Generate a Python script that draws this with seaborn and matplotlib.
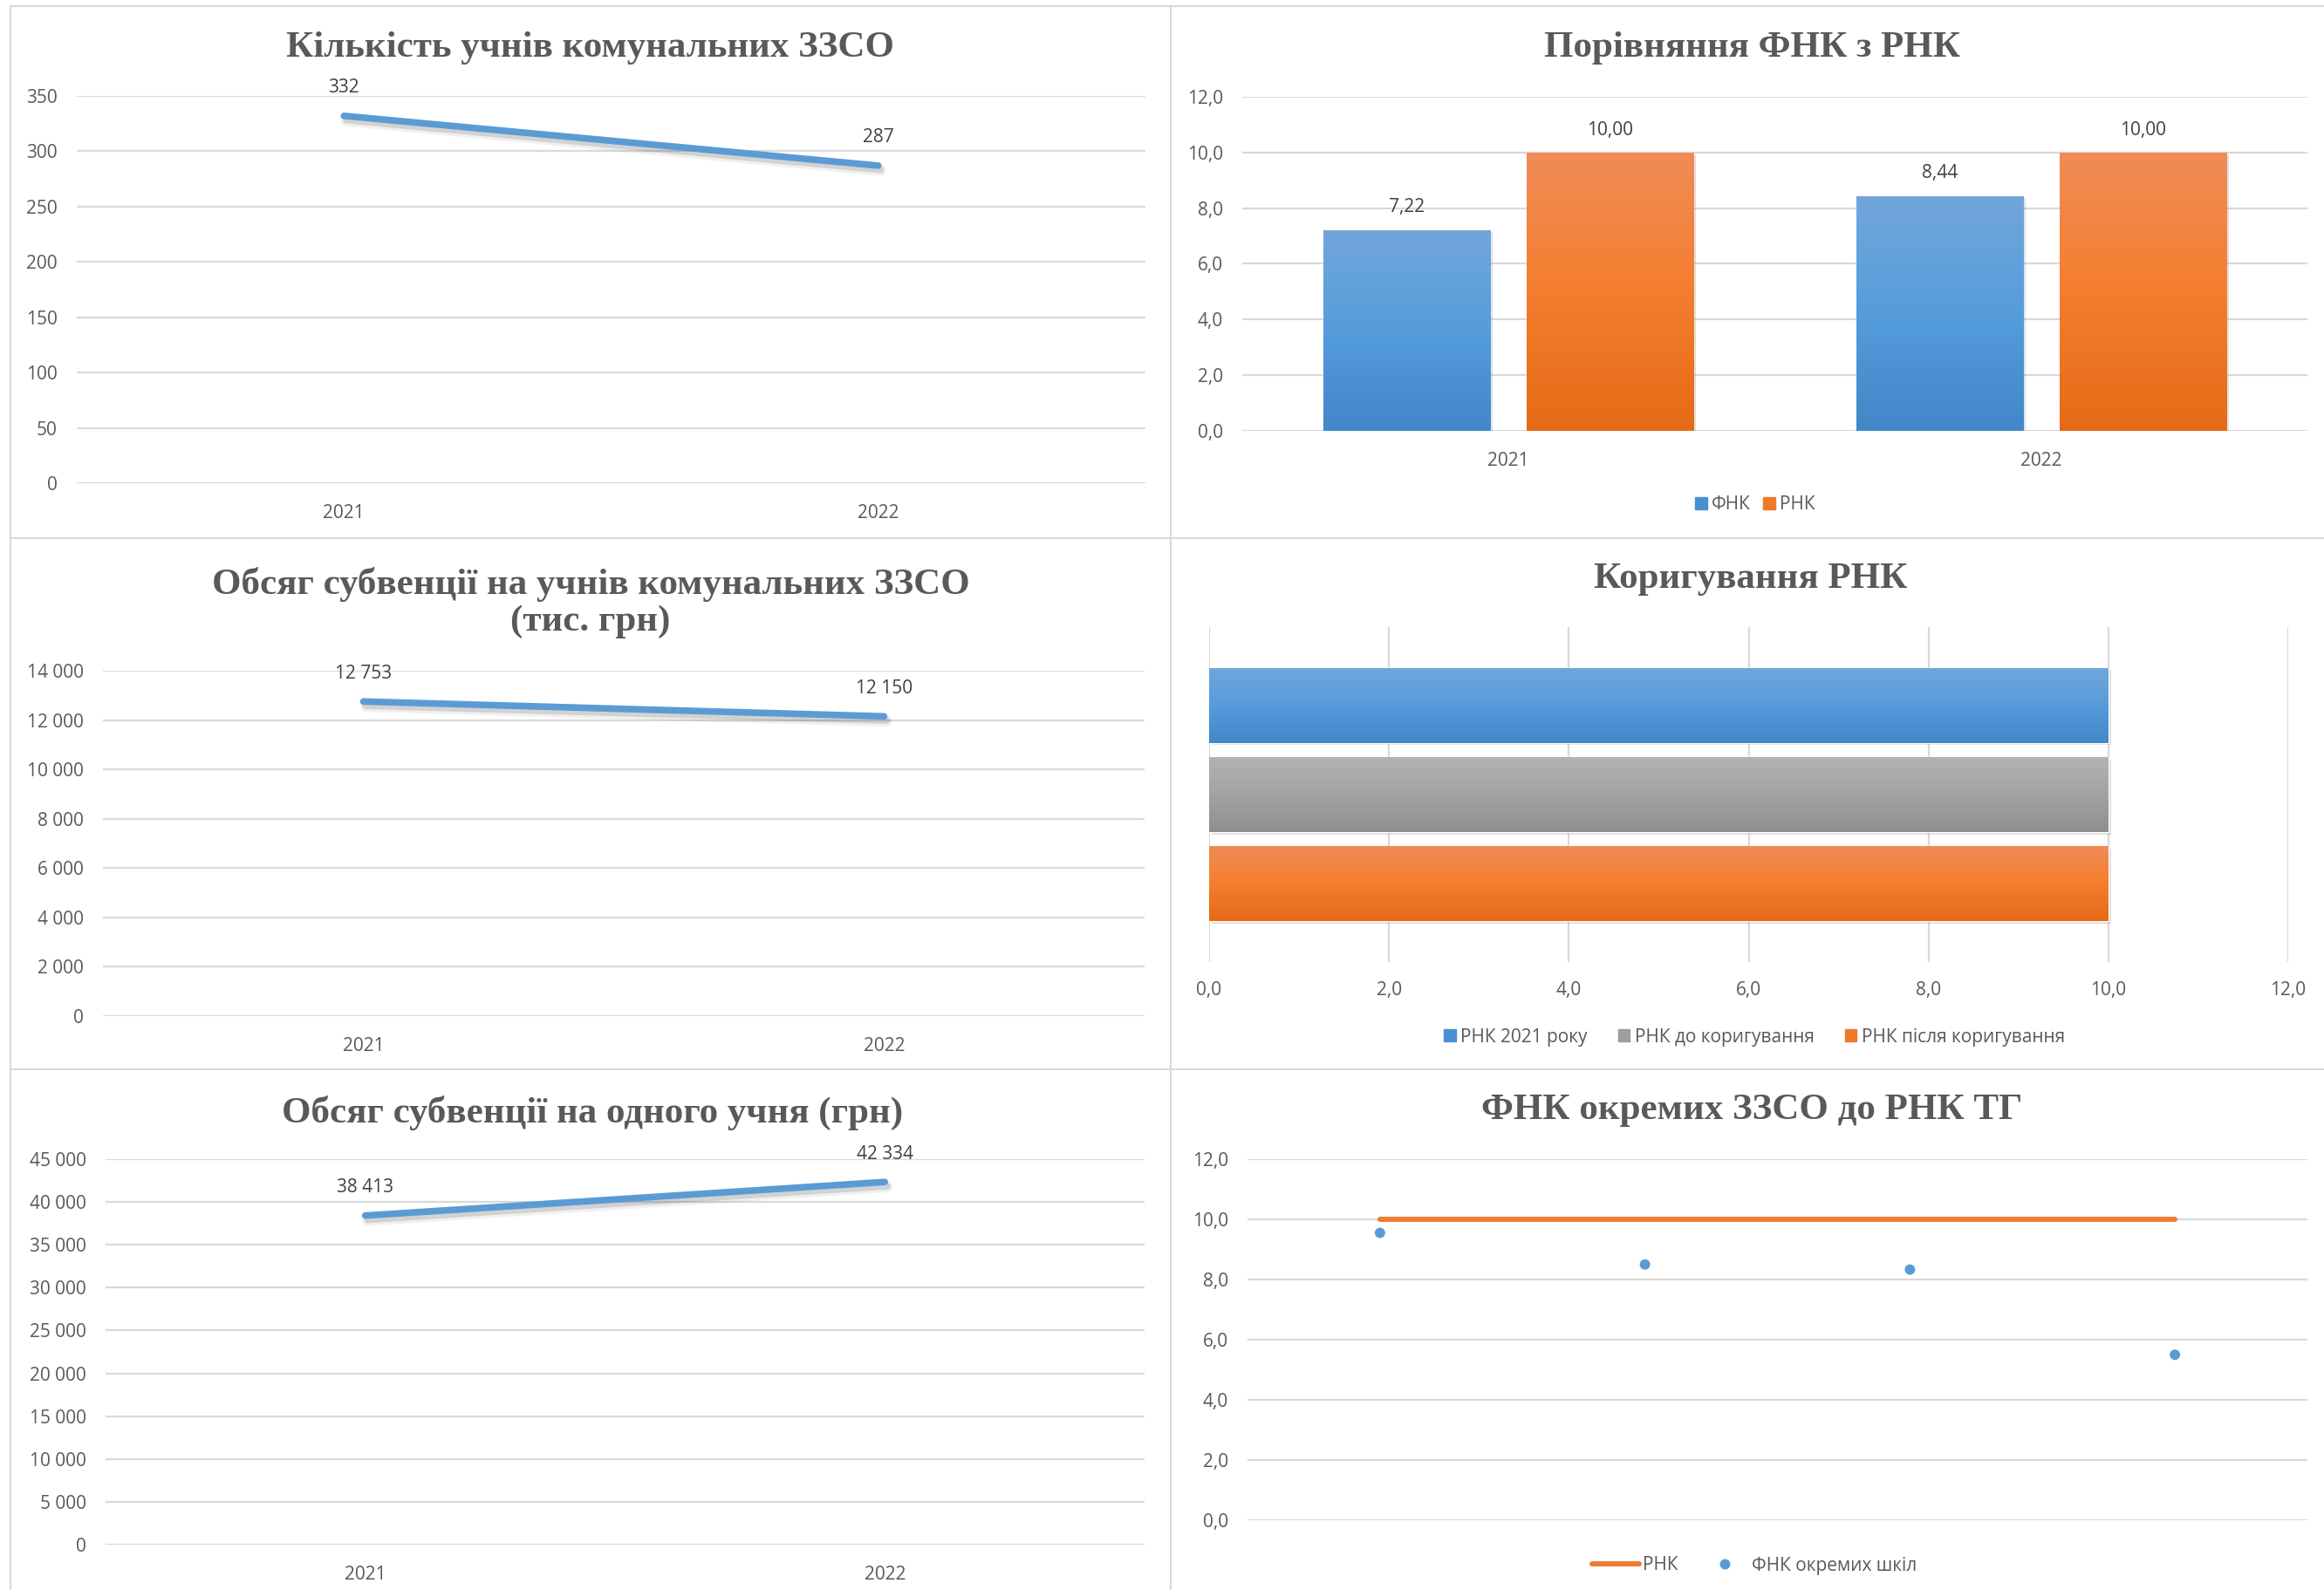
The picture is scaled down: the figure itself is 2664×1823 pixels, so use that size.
import numpy as np
import pandas as pd
import matplotlib
matplotlib.use('Agg')
import matplotlib.pyplot as plt
import matplotlib.patheffects as pe
from matplotlib.colors import LinearSegmentedColormap
from matplotlib.lines import Line2D
from matplotlib.patches import Patch
from matplotlib.ticker import FuncFormatter
import seaborn as sns

# chart data
years = ['2021', '2022']
students = [332, 287]
subv_total = [12753, 12150]
subv_per_student = [38413, 42334]
fnk = [7.22, 8.44]
rnk = [10.00, 10.00]
adjust_labels = ['РНК 2021 року', 'РНК до коригування', 'РНК після коригування']
adjust_values = [10.0, 10.0, 10.0]
school_idx = [0, 1, 2, 3]
school_fnk = [9.55, 8.50, 8.33, 5.50]
school_rnk = [10.0, 10.0, 10.0, 10.0]

BLUE = '#5B9BD5'
ORANGE = '#ED7D31'
GRAY = '#A5A5A5'
GRID = '#D9D9D9'
TXT = '#595959'
LBL = '#404040'

grad_blue = LinearSegmentedColormap.from_list('b', ['#4287C8', '#569DDC', '#72A6DB'])
grad_orange = LinearSegmentedColormap.from_list('o', ['#E46A16', '#F47E2E', '#F08C58'])
grad_gray = LinearSegmentedColormap.from_list('g', ['#8F8F8F', '#A3A3A3', '#B3B3B3'])

sns.set_theme(style='white')
plt.rcParams['font.family'] = ['Open Sans', 'DejaVu Sans']

W, H = 2664, 1823
fig = plt.figure(figsize=(W / 100, H / 100), dpi=100)


def px_axes(x0, y0, x1, y1):
    return fig.add_axes([x0 / W, 1 - y1 / H, (x1 - x0) / W, (y1 - y0) / H])


def ua_num(v, dec=0):
    return f'{v:,.{dec}f}'.replace(',', ' ').replace('.', ',')


def style(ax, grid_axis='y'):
    for s in ax.spines.values():
        s.set_visible(False)
    ax.grid(False)
    ax.grid(axis=grid_axis, color=GRID, lw=1.6)
    ax.set_axisbelow(True)
    ax.tick_params(length=0, labelsize=15, labelcolor=TXT)
    ax.tick_params(axis='y', pad=16)
    ax.tick_params(axis='x', pad=17)
    ax.set_xlabel('')
    ax.set_ylabel('')


def title(x, y, text):
    fig.text(x / W, 1 - y / H, text, ha='center', va='center', fontfamily='Liberation Serif',
             fontweight='bold', fontsize=31, color=TXT, linespacing=1.15)


def gradient_bars(ax, cmaps):
    inverted = ax.yaxis_inverted()
    for container, cmap in zip(ax.containers, cmaps):
        for bar in container:
            x0, y0 = bar.get_x(), bar.get_y()
            w, h = bar.get_width(), bar.get_height()
            grad = np.linspace(0, 1, 256).reshape(-1, 1)
            if inverted:
                grad = grad[::-1]
            im = ax.imshow(grad, extent=[x0, x0 + w, y0, y0 + h], origin='lower',
                           aspect='auto', cmap=cmap, zorder=bar.get_zorder() + 0.1)
            im.set_clip_path(bar)
            bar.set_path_effects([pe.SimplePatchShadow(offset=(2, -2), alpha=0.15), pe.Normal()])


# soft shadow under the thick lines
line_shadow = [pe.SimpleLineShadow(offset=(2, -4), shadow_color='black', alpha=0.06, linewidth=9),
               pe.SimpleLineShadow(offset=(2, -3.5), shadow_color='black', alpha=0.12),
               pe.Normal()]


def line_panel(rect, values, ymax, ystep, txt, txy):
    ax = px_axes(*rect)
    sns.lineplot(x=[0, 1], y=values, ax=ax, color=BLUE, linewidth=5.5)
    ln = ax.lines[0]
    ln.set_solid_capstyle('round')
    ln.set_path_effects(line_shadow)
    style(ax)
    ax.set_xlim(-0.5, 1.5)
    ax.set_ylim(0, ymax)
    ax.set_xticks([0, 1], years)
    ax.set_yticks(np.arange(0, ymax + 1, ystep))
    ax.yaxis.set_major_formatter(FuncFormatter(lambda v, p: ua_num(v)))
    for i, v in enumerate(values):
        ax.annotate(ua_num(v), (i, v), xytext=(0, 23), textcoords='offset points',
                    ha='center', va='center', fontsize=15, color=LBL)
    title(*txy, txt)
    return ax


def legend(ax, handles, labels, cx, cy, **kw):
    leg = ax.legend(handles, labels, loc='center', bbox_to_anchor=(cx / W, 1 - cy / H),
                    bbox_transform=fig.transFigure, ncol=len(labels), frameon=False,
                    fontsize=15, labelcolor=TXT, **kw)
    return leg


# panel 1
line_panel((88, 110, 1313, 554), students, 350, 50, 'Кількість учнів комунальних ЗЗСО', (677, 55))

# panel 3
line_panel((118, 769, 1312, 1165), subv_total, 14000, 2000,
           'Обсяг субвенції на учнів комунальних ЗЗСО\n(тис. грн)', (677, 691))

# panel 5
line_panel((121, 1329, 1312, 1771), subv_per_student, 45000, 5000,
           'Обсяг субвенції на одного учня (грн)', (679, 1276))

# panel 2: bars FNK vs RNK
ax2 = px_axes(1424, 111, 2645, 494)
df2 = pd.DataFrame({'year': years * 2, 'value': fnk + rnk,
                    'series': ['ФНК'] * 2 + ['РНК'] * 2})
sns.barplot(data=df2, x='year', y='value', hue='series', palette=[BLUE, ORANGE],
            saturation=1, width=0.764, gap=0.18, ax=ax2, legend=False)
style(ax2)
for cont, vals in zip(ax2.containers, [fnk, rnk]):
    ax2.bar_label(cont, labels=[ua_num(v, 2) for v in vals], padding=11, fontsize=15, color=LBL)
gradient_bars(ax2, [grad_blue, grad_orange])
ax2.set_xlim(-0.5, 1.5)
ax2.set_ylim(0, 12)
ax2.set_yticks(np.arange(0, 12.1, 2))
ax2.yaxis.set_major_formatter(FuncFormatter(lambda v, p: ua_num(v, 1)))
title(2008, 55, 'Порівняння ФНК з РНК')
legend(ax2, [Patch(color='#4A90D0'), Patch(color='#EE7A2A')], ['ФНК', 'РНК'], 2012, 579,
       handlelength=0.65, handleheight=0.65, handletextpad=0.25, columnspacing=0.7)

# panel 4: horizontal bars RNK adjustment
ax4 = px_axes(1386, 719, 2623, 1103)
df4 = pd.DataFrame({'group': [''] * 3, 'value': adjust_values, 'series': adjust_labels})
sns.barplot(data=df4, x='value', y='group', hue='series', orient='h',
            palette=[BLUE, GRAY, ORANGE], saturation=1, width=0.8, gap=0.16, ax=ax4, legend=False)
style(ax4, grid_axis='x')
ax4.set_ylim(0.5, -0.5)
gradient_bars(ax4, [grad_blue, grad_gray, grad_orange])
ax4.set_xlim(0, 12)
ax4.set_ylim(0.5, -0.5)
ax4.set_yticks([])
ax4.set_xticks(np.arange(0, 12.1, 2))
ax4.xaxis.set_major_formatter(FuncFormatter(lambda v, p: ua_num(v, 1)))
ax4.tick_params(axis='x', pad=16)
title(2007, 664, 'Коригування РНК')
legend(ax4, [Patch(color='#4A90D0'), Patch(color='#9E9E9E'), Patch(color='#EE7A2A')],
       adjust_labels, 2011, 1189,
       handlelength=0.65, handleheight=0.65, handletextpad=0.25, columnspacing=1.7)

# panel 6: schools FNK vs RNK
ax6 = px_axes(1430, 1329, 2645, 1743)
sns.lineplot(x=school_idx, y=school_rnk, ax=ax6, color=ORANGE, linewidth=4.3)
ax6.lines[0].set_solid_capstyle('round')
sns.scatterplot(x=school_idx, y=school_fnk, ax=ax6, color=BLUE, s=74, edgecolor='none')
style(ax6)
ax6.set_xlim(-0.5, 3.5)
ax6.set_ylim(0, 12)
ax6.set_xticks([])
ax6.set_yticks(np.arange(0, 12.1, 2))
ax6.yaxis.set_major_formatter(FuncFormatter(lambda v, p: ua_num(v, 1)))
title(2008, 1273, 'ФНК окремих ЗЗСО до РНК ТГ')
legend(ax6, [Line2D([], [], color=ORANGE, lw=4.3, solid_capstyle='round'),
             Line2D([], [], ls='', marker='o', ms=8.6, color=BLUE, mec='none')],
       ['РНК', 'ФНК окремих шкіл'], 2011, 1795,
       handlelength=2.6, handletextpad=0.15, columnspacing=1.3)

# panel borders
for y in (7, 617, 1226):
    fig.add_artist(Line2D([12 / W, 1], [1 - y / H, 1 - y / H], transform=fig.transFigure,
                          color=GRID, lw=1.5))
for x in (12, 1342):
    fig.add_artist(Line2D([x / W, x / W], [1 - 7 / H, 0], transform=fig.transFigure,
                          color=GRID, lw=1.5))

fig.savefig('out.png', dpi=100, facecolor='white')
